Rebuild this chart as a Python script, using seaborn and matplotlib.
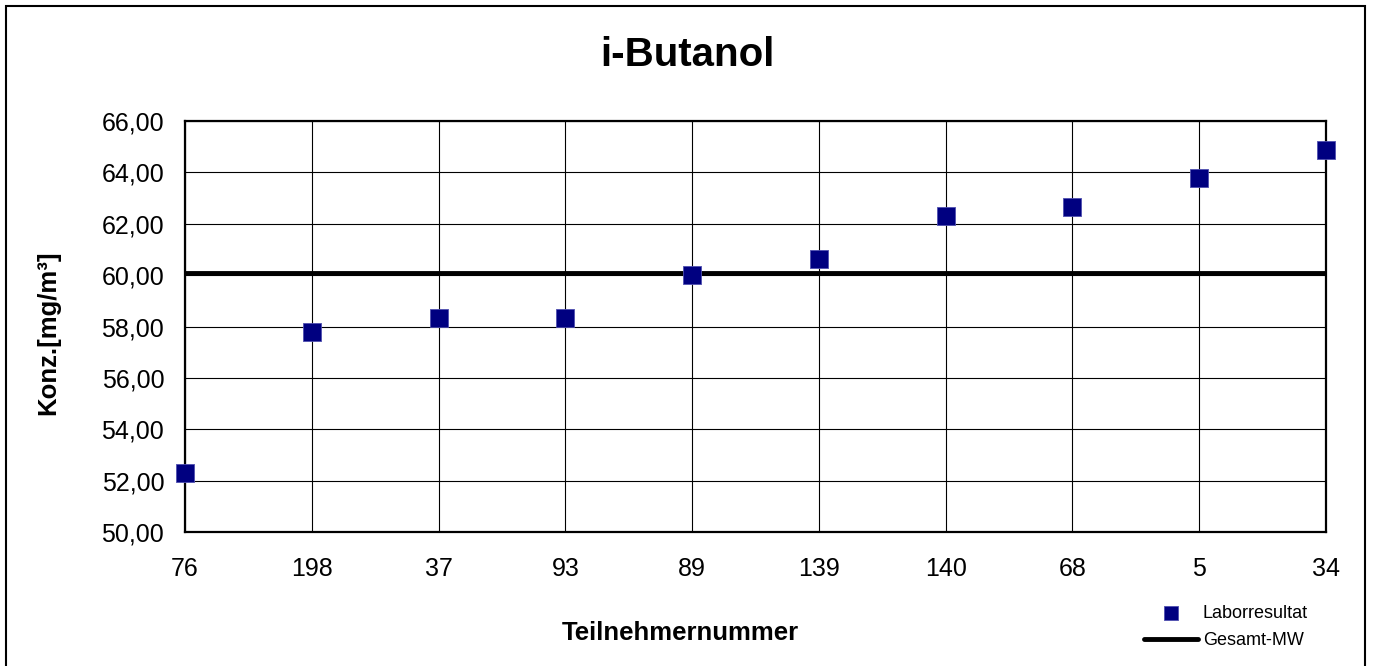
import matplotlib
matplotlib.use("Agg")
import matplotlib.pyplot as plt
import seaborn as sns
import pandas as pd
from matplotlib.ticker import FuncFormatter, MultipleLocator
from matplotlib.patches import Rectangle

# ---- data ----
participants = ["76", "198", "37", "93", "89", "139", "140", "68", "5", "34"]
lab_results = [52.30, 57.80, 58.32, 58.33, 60.00, 60.61, 62.32, 62.66, 63.80, 64.86]
overall_mean = 60.08
title = "i-Butanol"
y_label = "Konz.[mg/m³]"
x_label = "Teilnehmernummer"
series_label = "Laborresultat"
mean_label = "Gesamt-MW"

df = pd.DataFrame({"pos": range(len(participants)), "value": lab_results})

sns.set_style("white")
plt.rcParams["font.family"] = ["Liberation Sans", "DejaVu Sans"]
plt.rcParams["text.color"] = "black"
plt.rcParams["axes.labelcolor"] = "black"

fig = plt.figure(figsize=(13.74, 6.66), dpi=100)
ax = fig.add_axes([185 / 1374, 1 - 532 / 666, (1326 - 185) / 1374, (532 - 121) / 666])

mean_line = ax.axhline(overall_mean, color="black", lw=3.5, zorder=3, label=mean_label)
sns.scatterplot(data=df, x="pos", y="value", marker="s", s=150, color="#000080",
                edgecolor="#5050b0", linewidth=0.6, ax=ax, zorder=4, clip_on=False,
                label=series_label)

ax.set_xlim(0, len(participants) - 1)
ax.set_ylim(50, 66)
ax.yaxis.set_major_locator(MultipleLocator(2))
ax.yaxis.set_major_formatter(FuncFormatter(lambda v, p: f"{v:.2f}".replace(".", ",")))
ax.set_xticks(range(len(participants)))
ax.set_xticklabels(participants)

ax.grid(True, color="black", lw=0.8)
ax.set_axisbelow(True)
for s in ax.spines.values():
    s.set_visible(True)
    s.set_color("black")
    s.set_linewidth(1.6)
ax.tick_params(axis="both", direction="out", length=5, width=0.9, color="black",
               labelsize=18, labelcolor="black")
ax.tick_params(axis="y", pad=10)
ax.tick_params(axis="x", pad=13)
ax.set_xlabel("")
ax.set_ylabel("")

fig.text(0.5, 1 - 55 / 666, title, ha="center", va="center", fontsize=29,
         fontweight="bold", color="black")
fig.text(48 / 1374, 1 - 333 / 666, y_label, ha="center", va="center", rotation=90,
         fontsize=18.5, fontweight="bold", color="black")
fig.text(680 / 1374, 1 - 633 / 666, x_label, ha="center", va="center",
         fontsize=18.5, fontweight="bold", color="black")

handles, labels = ax.get_legend_handles_labels()
order = [labels.index(series_label), labels.index(mean_label)]
leg = ax.legend([handles[i] for i in order], [labels[i] for i in order],
                loc="center left", bbox_to_anchor=(1144 / 1374, 1 - 627 / 666),
                bbox_transform=fig.transFigure, frameon=False, fontsize=13,
                handlelength=3.0, handletextpad=0.25, labelspacing=0.55,
                borderpad=0, borderaxespad=0, markerscale=0.8, labelcolor="black")

fig.patches.append(Rectangle((6 / 1374, -0.05), (1365 - 6) / 1374, 1.05 - 6 / 666,
                             transform=fig.transFigure, fill=False, edgecolor="black",
                             lw=1.5, zorder=10))

fig.savefig("out.png", dpi=100)
